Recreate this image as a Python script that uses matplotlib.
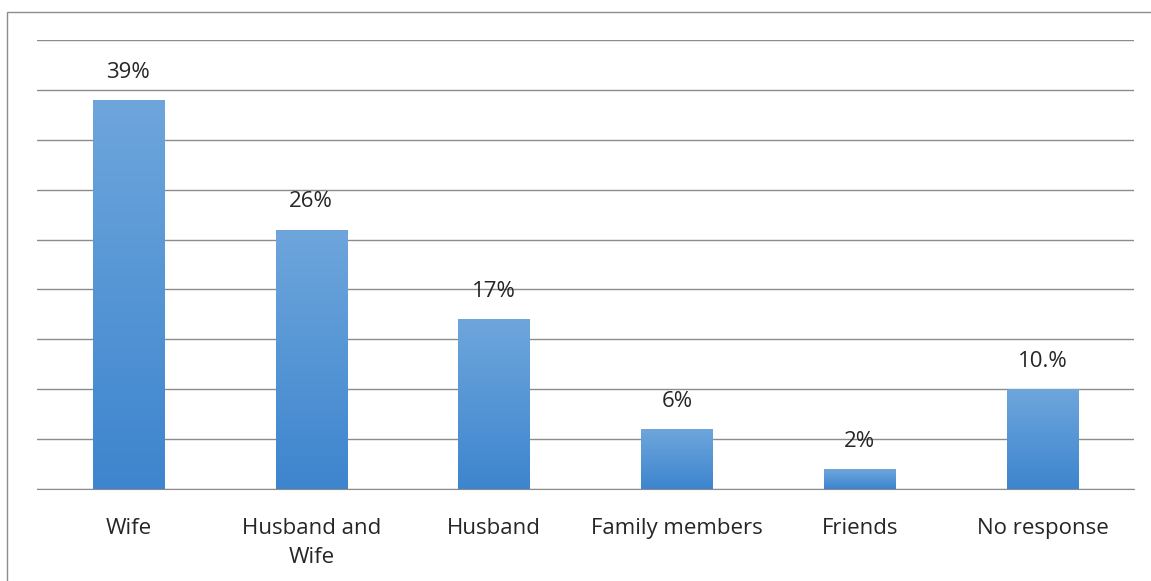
import numpy as np
import matplotlib.pyplot as plt
from matplotlib.colors import LinearSegmentedColormap
from matplotlib.patches import Rectangle

# categories and percentages
categories = ['Wife', 'Husband and\nWife', 'Husband', 'Family members', 'Friends', 'No response']
values = [39, 26, 17, 6, 2, 10]
labels = ['39%', '26%', '17%', '6%', '2%', '10.%']

plt.rcParams['font.family'] = ['Open Sans', 'DejaVu Sans']

fig = plt.figure(figsize=(11.51, 5.81), dpi=100)
ax = fig.add_axes([37 / 1151, 92 / 581, 1097 / 1151, 449 / 581])

# outer chart frame
fig.patches.append(Rectangle((7 / 1151, -0.1), 1.2, (581 - 12) / 581 + 0.1,
                             transform=fig.transFigure, fill=False,
                             edgecolor='#8c8c8c', linewidth=1))

x = np.arange(len(categories))
bars = ax.bar(x, values, width=0.39, color='none', zorder=3)

# vertical gradient fill for each bar
cmap = LinearSegmentedColormap.from_list('blues', ['#3d85ce', '#6ea6dc'])
grad = np.linspace(0, 1, 256).reshape(-1, 1)
for b in bars:
    x0, w, h = b.get_x(), b.get_width(), b.get_height()
    im = ax.imshow(grad, cmap=cmap, origin='lower', aspect='auto',
                   extent=[x0, x0 + w, 0, h], zorder=3)
    im.set_clip_path(b)

for xi, v, lab in zip(x, values, labels):
    ax.annotate(lab, (xi, v), xytext=(0, 12.5), textcoords='offset points',
                ha='center', va='bottom', fontsize=16, color='#262626')

ax.set_xlim(-0.5, len(categories) - 0.5)
ax.set_ylim(0, 45)
ax.set_yticks(np.arange(0, 46, 5))
ax.yaxis.grid(True, color='#8c8c8c', linewidth=1)
ax.set_axisbelow(True)
ax.tick_params(axis='y', left=False, labelleft=False)
ax.set_xticks(x)
ax.set_xticklabels(categories, fontsize=16, color='#262626', linespacing=1.5)
ax.tick_params(axis='x', length=0, pad=21)
for s in ['top', 'right', 'left']:
    ax.spines[s].set_visible(False)
ax.spines['bottom'].set_color('#8c8c8c')

fig.savefig('out.png', dpi=100)
